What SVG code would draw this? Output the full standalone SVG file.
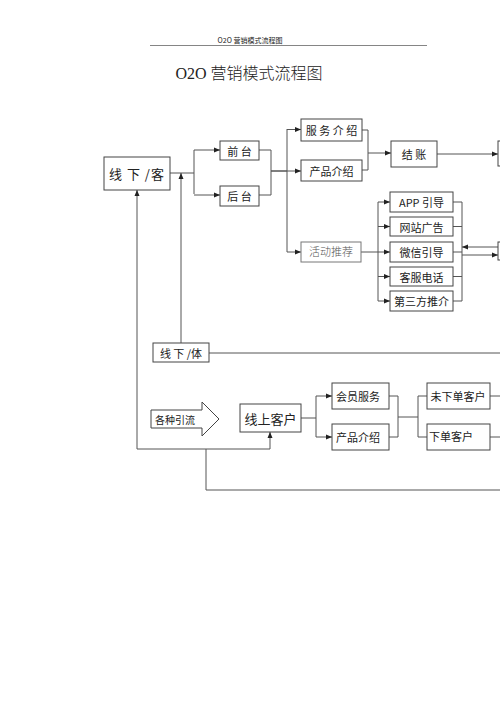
<svg xmlns="http://www.w3.org/2000/svg" width="500" height="707" viewBox="0 0 500 707">
<style>
text{font-family:"Noto Sans CJK SC","Noto Sans",sans-serif;fill:#222;text-anchor:middle;dominant-baseline:central}
.box{fill:#fff;stroke:#444;stroke-width:1}
.gbox{fill:#fff;stroke:#777;stroke-width:1}
.ln{fill:none;stroke:#555;stroke-width:1}
.l{font-size:11px}
.big{font-size:13px}
</style>
<defs>
<marker id="ah" markerUnits="userSpaceOnUse" markerWidth="6" markerHeight="6" refX="6" refY="3" orient="auto">
<path d="M0,0.5 L6,3 L0,5.5 z" fill="#222"/>
</marker>
</defs>
<rect width="500" height="707" fill="#fff"/>
<g id="header">
<text x="250" y="40" style="font-size:7px">O2O 营销模式流程图</text>
<line x1="150" y1="45.5" x2="427" y2="45.5" stroke="#666" stroke-width="0.8"/>
</g>
<g id="title">
<text x="249" y="73" style="font-size:16px;font-family:'Liberation Serif','Noto Sans CJK SC',serif;font-weight:300">O2O 营销模式流程图</text>
</g>
<g id="connectors">
<path class="ln" d="M170,173 H194 M194,150 V194"/>
<path class="ln" d="M194,150 H220" marker-end="url(#ah)"/>
<path class="ln" d="M194,195 H220" marker-end="url(#ah)"/>
<path class="ln" d="M181,345 V173" marker-end="url(#ah)"/>
<path class="ln" d="M259,150 H271 V195 H259 M271,171 H287 M287,129 V252"/>
<path class="ln" d="M287,129.5 H301" marker-end="url(#ah)"/>
<path class="ln" d="M271,171 H301" marker-end="url(#ah)"/>
<path class="ln" d="M287,252 H301" marker-end="url(#ah)"/>
<path class="ln" d="M362,130 H368 V170 H362 M368,153 H391" marker-end="url(#ah)"/>
<path class="ln" d="M437,154 H498" marker-end="url(#ah)"/>
<path class="ln" d="M361,252 H378 M378,202 V301"/>
<path class="ln" d="M378,202 H390" marker-end="url(#ah)"/>
<path class="ln" d="M378,226.5 H390" marker-end="url(#ah)"/>
<path class="ln" d="M378,252 H390" marker-end="url(#ah)"/>
<path class="ln" d="M378,276.5 H390" marker-end="url(#ah)"/>
<path class="ln" d="M378,301 H390" marker-end="url(#ah)"/>
<path class="ln" d="M453,202 H462 M453,226.5 H462 M453,252 H462 M453,276.5 H462 M453,301 H462 M462,202 V301"/>
<path class="ln" d="M498,247 H462" marker-end="url(#ah)"/>
<path class="ln" d="M462,255 H498" marker-end="url(#ah)"/>
<path class="ln" d="M209,353 H500"/>
<path class="ln" d="M137,449 V190" marker-end="url(#ah)"/>
<path class="ln" d="M137,449 H270 V432" marker-end="url(#ah)"/>
<path class="ln" d="M206,449 V490 H500"/>
<path class="ln" d="M301,418 H316 M316,396 V437"/>
<path class="ln" d="M316,396 H332" marker-end="url(#ah)"/>
<path class="ln" d="M316,437 H332" marker-end="url(#ah)"/>
<path class="ln" d="M389,396 H398 V437 H389 M398,417 H418 M418,396 V437 M418,396 H427 M418,437 H427"/>
<path class="ln" d="M490,396 H500 M490,437 H500"/>
</g>
<g id="n-xianxiake"><rect class="box" x="104" y="157" width="66" height="33"/><text class="big" x="137" y="173.5" letter-spacing="1">线 下 /客</text></g>
<g id="n-qiantai"><rect class="box" x="220" y="141" width="39" height="19"/><text class="l" x="239.5" y="150.5">前 台</text></g>
<g id="n-houtai"><rect class="box" x="220" y="186" width="39" height="20"/><text class="l" x="239.5" y="196">后 台</text></g>
<g id="n-fuwu"><rect class="box" x="301" y="119" width="61" height="22"/><text class="l" x="331.5" y="130">服 务 介 绍</text></g>
<g id="n-chanpin1"><rect class="box" x="301" y="160" width="61" height="21"/><text class="l" x="331.5" y="170.5">产品介绍</text></g>
<g id="n-jiezhang"><rect class="box" x="391" y="141" width="46" height="26"/><text class="l" x="414" y="154">结 账</text></g>
<g id="n-right1"><rect class="box" x="498" y="141" width="40" height="25"/></g>
<g id="n-huodong"><rect class="gbox" x="301" y="242" width="60" height="20"/><text class="l" x="331" y="252" style="fill:#555;font-family:'Liberation Serif','Noto Sans CJK SC',serif;font-weight:300">活动推荐</text></g>
<g id="n-app"><rect class="box" x="390" y="192" width="63" height="20"/><text class="l" x="421.5" y="202">APP 引导</text></g>
<g id="n-wangzhan"><rect class="box" x="390" y="217" width="63" height="19"/><text class="l" x="421.5" y="226.5">网站广告</text></g>
<g id="n-weixin"><rect class="box" x="390" y="242" width="63" height="20"/><text class="l" x="421.5" y="252">微信引导</text></g>
<g id="n-kefu"><rect class="box" x="390" y="267" width="63" height="19"/><text class="l" x="421.5" y="276.5">客服电话</text></g>
<g id="n-disanfang"><rect class="box" x="390" y="291" width="63" height="20"/><text class="l" x="421.5" y="301">第三方推介</text></g>
<g id="n-right2"><rect class="box" x="498" y="242" width="40" height="18"/></g>
<g id="n-xianxiati"><rect class="box" x="153" y="343" width="56" height="19"/><text class="l" x="181" y="352.5">线 下 /体</text></g>
<g id="n-yinliu"><path class="box" d="M151,410 H202 V402 L219,419 L202,436 V428 H151 Z"/><text x="175" y="419" style="font-size:10px">各种引流</text></g>
<g id="n-xianshang"><rect class="box" x="240" y="404" width="61" height="28"/><text class="big" x="270.5" y="418">线上客户</text></g>
<g id="n-huiyuan"><rect class="box" x="332" y="383" width="57" height="26"/><text class="l" x="358" y="395.5">会员服务</text></g>
<g id="n-chanpin2"><rect class="box" x="332" y="424" width="57" height="26"/><text class="l" x="358" y="436.5">产品介绍</text></g>
<g id="n-weixiadan"><rect class="box" x="427" y="383" width="63" height="26"/><text class="l" x="458" y="395.5">未下单客户</text></g>
<g id="n-xiadan"><rect class="box" x="427" y="424" width="63" height="26"/><text class="l" x="451" y="435.5">下单客户</text></g>
</svg>
